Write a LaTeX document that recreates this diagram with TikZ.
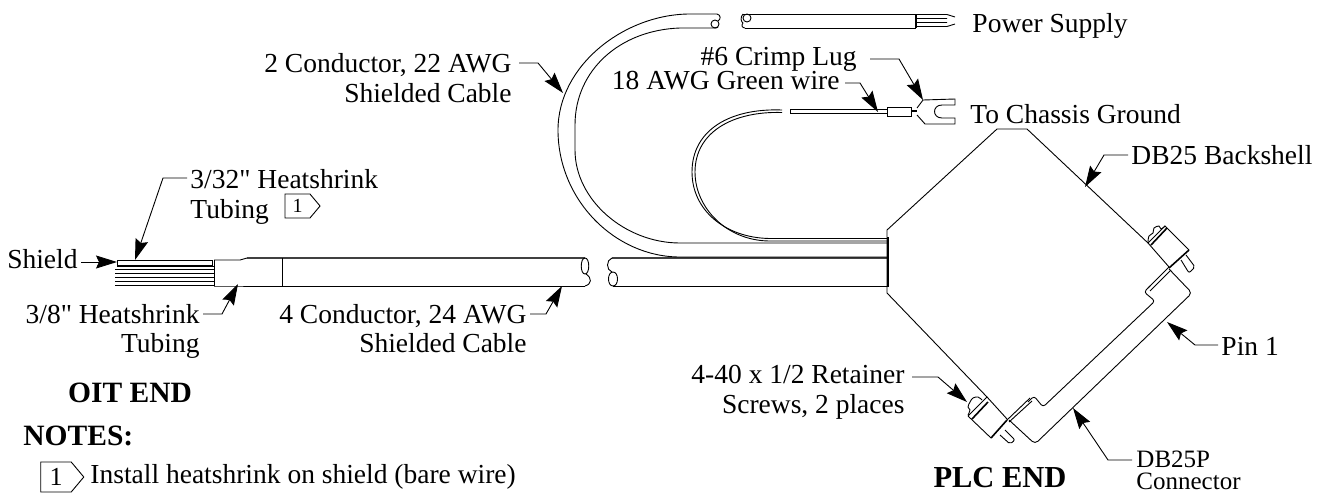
\documentclass[tikz,border=0pt]{standalone}
\usepackage{fontspec}
\setmainfont{Liberation Serif}
\newfontfamily\plainfont{Liberation Serif}
\usetikzlibrary{positioning, shapes.symbols, arrows.meta}
\tikzset{
  lbl/.style={font=\fontsize{27.5}{30}\selectfont, inner sep=3pt},
  lblsmall/.style={font=\fontsize{25}{27}\selectfont, inner sep=0pt},
  head/.style={font=\fontsize{29.5}{30}\selectfont\bfseries, inner sep=0pt},
  tag/.style={signal, signal to=east, signal pointer angle=100, draw, inner sep=0pt},
  arrow/.style={-{Stealth[length=21pt, width=13pt, inset=3pt]}, line width=0.9pt},
  part/.style={line width=0.9pt},
  heavy/.style={line width=1.6pt},
}

\begin{document}
\begin{tikzpicture}[x=1pt, y=-1pt, part]
  \useasboundingbox (0,0) rectangle (1327,493);

  % Lower cable
  \draw[line width=1.2pt, black!75] (247,258) -- (585,258) (612,258) -- (888,258);
  \draw (247,286) -- (585,286) (613,286) -- (888,286);
  \draw (282,258) -- (282,286);
  \draw (585,258) .. controls (580,258) and (580,274) .. (585,274) .. controls (590,274) and (590,258) .. (585,258);
  \draw (586,274) .. controls (592,278) and (592,284) .. (585,286);
  \draw (612,258) .. controls (606,260) and (606,270) .. (612,272);
  \draw (613,272) .. controls (607,272) and (607,286) .. (613,286) .. controls (619,286) and (619,272) .. (613,272);

  % Shield end
  \draw (214,260) -- (240,260) -- (247,258);
  \draw (214,286) -- (240,286) -- (247,286);
  \draw (214,260) -- (214,286);
  \draw (117.5,260) rectangle (212,265.5);
  \foreach \ypos/\xpos in {266.5/117, 269/115, 273.5/115, 277.5/115, 281/115, 285.5/115}
    \draw[line width=1pt] (\xpos,\ypos) -- (214,\ypos);

  % 2 conductor cable
  \draw (717,14) -- (690,14) .. controls (625,14) and (558,65) .. (558,130) .. controls (558,200) and (615,257) .. (680,257) -- (888,257);
  \draw (713,28) -- (680,28) .. controls (620,30) and (575,70) .. (575,125) -- (575,150) .. controls (575,200) and (625,243) .. (680,243) -- (888,243);
  \draw (717,14) .. controls (721,15) and (721,19) .. (718,21);
  \draw (715,24) circle (4);
  \draw (718,27) .. controls (717,28) and (716,28) .. (713,28);
  \draw (743,14) -- (916,14) (745,28) -- (916,28);
  \draw (743,14) .. controls (740,17) and (741,22) .. (743,23) (743,23) .. controls (741,25) and (742,28) .. (745,28);
  \draw (747,18) circle (4);
  \draw[line width=1.3pt] (916,14) -- (916,28);
  \draw (916,14.5) -- (947,14.5) -- (955,17) (916,18.5) -- (947,18.5);
  \draw (916,22.5) -- (947,22.5) (916,26.5) -- (947,26.5) -- (955,24);

  % Green wire
  \draw (782,110) .. controls (730,108) and (692,130) .. (692,172) .. controls (692,210) and (725,238) .. (770,238.5) -- (888,238.5);
  \draw (782,112.5) .. controls (733,111) and (695,132) .. (695,172) .. controls (695,208) and (727,241) .. (770,241) -- (888,241);
  \draw (790,109.5) -- (887,109.5) (790,113) -- (887,113) (790,109.5) -- (790,113);
  \draw (887,107) rectangle (911,116);
  \draw[heavy] (911,111) -- (917,111);
  \draw (917,108) -- (923,100) -- (955,99) -- (955,105) -- (942,105) .. controls (932,105) and (932,118) .. (942,118) -- (955,118) -- (955,124) -- (925,124) -- (917,115);

  % Backshell
  \draw (1148,243) -- (1027,129) -- (997,129) -- (887,230) -- (887,293) -- (987,397);
  \draw[heavy] (888,237) -- (888,287);

  % Right connector
  \draw (1148,243) -- (1165,226) -- (1189,250) (1148,243) -- (1169,267);
  \draw[heavy] (1151,245) -- (1167,228);
  \draw[heavy] (1189,250) -- (1169,268);
  \draw (1169,267) -- (1148,288) (1171,270) -- (1150,291);
  \draw[rounded corners=3pt] (1150,286) -- (1144,292) -- (1155,301) -- (1043,407) -- (1034,396) -- (1028,402);
  \draw[rounded corners=4pt] (1169,269) -- (1192,293) -- (1035,444) -- (1009,420);
  \draw[rounded corners=2pt] (1186,255) -- (1195,267) -- (1189,273) -- (1181,260);
  \draw plot[smooth, tension=0.6] coordinates {(1148,242) (1149,236) (1153,233) (1154,228) (1159,226) (1161,229) (1165,226)};

  % Lower connector
  \draw (968,416) -- (987,397) -- (1007,419) (968,416) -- (991,438);
  \draw[heavy] (972,419) -- (988,402);
  \draw[heavy] (991,438) -- (1007,420);
  \draw (1007,420) -- (1030,398) (1009,422) -- (1032,401);
  \draw[rounded corners=2pt] (1000,435) -- (1010,444) -- (1015,440) -- (1005,430);
  \draw plot[smooth, tension=0.6] coordinates {(968,415) (970,410) (968,407) (970,402) (973,398) (978,397) (982,400)};

  % Labels
  \node[lbl, anchor=base east] (shield) at (81,268) {Shield};
  \node[lbl, anchor=base west] (thin) at (187,188) {3/32{\plainfont"} Heatshrink};
  \node[lbl, anchor=base west] (thinb) at (187,218) {Tubing};
  \node[tag, minimum width=35pt, minimum height=24pt, font=\fontsize{20}{20}\selectfont] (tagthin) at (297.5,206) {1};
  \node[lbl, anchor=base east] (wide) at (203,323) {3/8{\plainfont"} Heatshrink};
  \node[lbl, anchor=base east] (wideb) at (203,352) {Tubing};
  \node[lbl, anchor=base east] (four) at (530,323) {4 Conductor, 24 AWG};
  \node[lbl, anchor=base east] (fourb) at (530,352) {Shielded Cable};
  \node[lbl, anchor=base east] (two) at (515,72) {2 Conductor, 22 AWG};
  \node[lbl, anchor=base east] (twob) at (515,102) {Shielded Cable};
  \node[lbl, anchor=base west] (power) at (969,32) {Power Supply};
  \node[lbl, anchor=base east, inner sep=0pt] (lug) at (857,65) {\#6 Crimp Lug};
  \node[lbl, anchor=base east, inner sep=0pt] (green) at (840,89) {18 AWG Green wire};
  \node[lbl, anchor=base west] (ground) at (967,123) {To Chassis Ground};
  \node[lbl, anchor=base west] (shell) at (1128,164) {DB25 Backshell};
  \node[lbl, anchor=base west] (pin) at (1218,355) {Pin 1};
  \node[lbl, anchor=base east] (screw) at (908,383) {4-40 x 1/2 Retainer};
  \node[lbl, anchor=base east] (screwb) at (908,413) {Screws, 2 places};
  \node[lblsmall, anchor=base west] (conn) at (1136,467) {DB25P};
  \node[lblsmall, anchor=base west] (connb) at (1136,489) {Connector};
  \node[head, anchor=base] (oit) at (130,402) {OIT END};
  \node[head, anchor=base, font=\fontsize{30.5}{30}\selectfont\bfseries] (plc) at (1000,487) {PLC END};
  \node[head, anchor=base west] (notes) at (23,445) {NOTES:};
  \node[tag, minimum width=43pt, minimum height=30pt, font=\fontsize{26}{26}\selectfont] (tagnote) at (56,477) {1};
  \node[lbl, anchor=base west] (note) at (87,483) {Install heatshrink on shield (bare wire)};

  % Arrow ends
  \coordinate (kthin) at (163,178);
  \coordinate (tthin) at (135,260);
  \coordinate (tshield) at (117,262);
  \coordinate (kwide) at (222,314);
  \coordinate (twide) at (238,284);
  \coordinate (kfour) at (546,314);
  \coordinate (tfour) at (562,286);
  \coordinate (ktwo) at (538,63);
  \coordinate (ttwo) at (563,93);
  \coordinate (klug) at (899,59);
  \coordinate (tlug) at (923,100);
  \coordinate (kgreen) at (860,83);
  \coordinate (tgreen) at (878,112);
  \coordinate (kshell) at (1104,155);
  \coordinate (tshell) at (1085,187);
  \coordinate (kpin) at (1195,345);
  \coordinate (tpin) at (1167,322);
  \coordinate (kscrew) at (938,377);
  \coordinate (tscrew) at (967,402);
  \coordinate (kconn) at (1108,460);
  \coordinate (tconn) at (1073,408);

  % Arrows
  \draw[arrow] (thin.west |- kthin) -- (kthin) -- (tthin);
  \draw[arrow] (shield.east |- tshield) -- (tshield);
  \draw[arrow] (wide.east |- kwide) -- (kwide) -- (twide);
  \draw[arrow] (four.east |- kfour) -- (kfour) -- (tfour);
  \draw[arrow] ([xshift=4pt]two.east |- ktwo) -- (ktwo) -- (ttwo);
  \draw[arrow] ([xshift=13pt]lug.east |- klug) -- (klug) -- (tlug);
  \draw[arrow] ([xshift=5pt]green.east |- kgreen) -- (kgreen) -- (tgreen);
  \draw[arrow] (shell.west |- kshell) -- (kshell) -- (tshell);
  \draw[arrow] (pin.west |- kpin) -- (kpin) -- (tpin);
  \draw[arrow] ([xshift=4pt]screw.east |- kscrew) -- (kscrew) -- (tscrew);
  \draw[arrow] ([xshift=-4pt]conn.west |- kconn) -- (kconn) -- (tconn);
\end{tikzpicture}
\end{document}
